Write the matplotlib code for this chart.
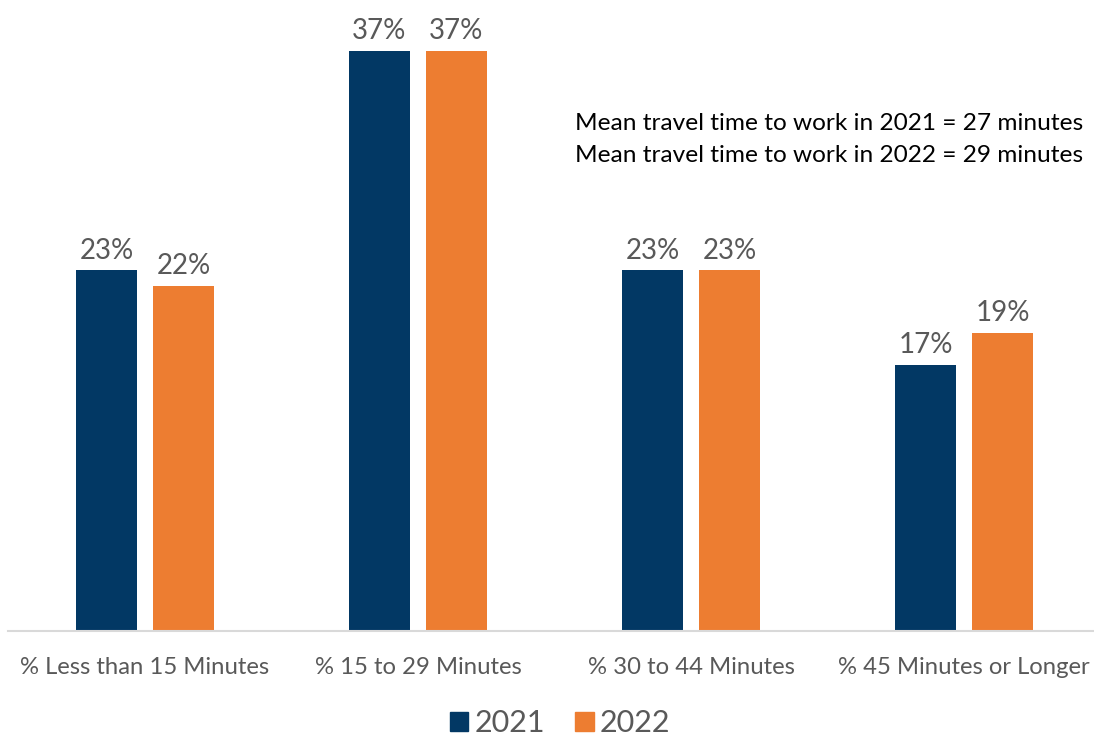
import matplotlib
matplotlib.use("Agg")
import matplotlib.pyplot as plt
import numpy as np
from matplotlib.patches import Patch

categories = ["% Less than 15 Minutes", "% 15 to 29 Minutes", "% 30 to 44 Minutes", "% 45 Minutes or Longer"]
values_2021 = [23, 37, 23, 17]
values_2022 = [22, 37, 23, 19]
series_names = ["2021", "2022"]
note_lines = ["Mean travel time to work in 2021 = 27 minutes",
              "Mean travel time to work in 2022 = 29 minutes"]

C_2021 = "#023864"
C_2022 = "#ED7D31"
GREY = "#595959"
FONT = "Lato"

W, H = 1094, 739
fig = plt.figure(figsize=(W / 100, H / 100), dpi=100)
ax_left_px, ax_right_px = 8, 1094
base_px = 631
ax = fig.add_axes([ax_left_px / W, (H - base_px) / H, (ax_right_px - ax_left_px) / W, base_px / H])

spacing = 273.0
x = np.arange(len(categories))
bw = 61 / spacing
off = 38.5 / spacing
b1 = ax.bar(x - off, values_2021, bw, color=C_2021, label=series_names[0])
b2 = ax.bar(x + off, values_2022, bw, color=C_2022, label=series_names[1])

ax.set_xlim((ax_left_px - 145) / spacing, (ax_right_px - 145) / spacing)
ax.set_ylim(0, 37 * base_px / 580)

for bars, vals in ((b1, values_2021), (b2, values_2022)):
    for r, v in zip(bars, vals):
        ax.annotate(f"{v}%", (r.get_x() + r.get_width() / 2, v), xytext=(0, 5),
                    textcoords="offset points", ha="center", va="bottom",
                    fontsize=20, color=GREY, family=FONT)

for s in ["top", "right", "left"]:
    ax.spines[s].set_visible(False)
ax.spines["bottom"].set_color("#D9D9D9")
ax.spines["bottom"].set_linewidth(1.5)
ax.set_yticks([])
ax.set_xticks(x)
ax.set_xticklabels(categories, fontsize=17.2, color=GREY, family=FONT)
ax.tick_params(axis="x", length=0, pad=19)

fig.text(1083 / W, 1 - 123 / H, note_lines[0], ha="right", va="center", fontsize=17.6, color="black", family=FONT)
fig.text(1083 / W, 1 - 156 / H, note_lines[1], ha="right", va="center", fontsize=17.6, color="black", family=FONT)

handles = [Patch(color=C_2021), Patch(color=C_2022)]
fig.legend(handles, series_names, loc="center", bbox_to_anchor=(560 / W, 1 - 723 / H), ncol=2,
           frameon=False, prop={"family": FONT, "size": 22}, labelcolor=GREY,
           handlelength=0.6, handleheight=0.6, handletextpad=0.2, columnspacing=1.0)

fig.savefig("out.png", dpi=100)
